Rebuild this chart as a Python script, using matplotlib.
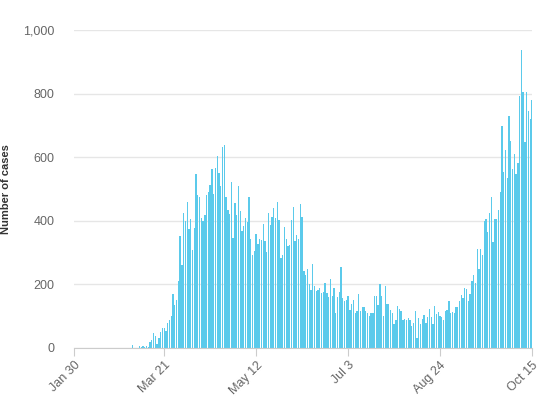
import matplotlib
matplotlib.use('Agg')
import matplotlib.pyplot as plt
import numpy as np
import pandas as pd

plt.rcParams.update({'font.family': ['Liberation Sans', 'DejaVu Sans'], 'font.size': 8.5})

BAR = '#5BCAEB'; GRID = '#E6E6E6'; AXIS = '#CCCCCC'; TXT = '#666666'

# daily new cases, Jan 30 .. Oct 15
early = [1] + [0] * 24 + [1, 0, 1, 0, 0, 0, 0]          # Jan 30 .. Mar 1
march = [0, 10, 0, 1, 0, 5, 2, 7, 3, 7, 4, 20, 24, 47, 37, 13, 31, 49, 64, 64,
         52, 80, 88, 101, 170, 135, 150, 210, 352]
spring = [260, 425, 399, 459, 373, 406, 307, 378, 548, 481, 476, 409, 399, 419,
          481, 492, 512, 562, 483, 566, 603, 550, 508, 631, 637, 474, 434, 422,
          523, 347, 456, 418, 509,
          431, 369, 384, 409, 397, 475, 344, 293, 306, 359, 328, 344, 340, 390,
          338, 303, 425, 388, 411, 440, 409, 458, 403, 284, 291, 381, 343, 322,
          325, 403, 444, 336, 354, 343]
summer = [453, 412, 241, 228, 250, 202, 181, 265, 196, 178, 183, 189, 172, 176,
          205, 174, 160, 216, 163, 188, 109, 159, 176, 255, 156, 147, 151, 164,
          119, 138, 152, 109, 117, 169,
          115, 128, 128, 115, 109, 100, 109, 109, 165, 163, 135, 202, 165, 102,
          194, 138, 137, 118, 109, 75, 88, 133, 122, 115, 88, 91, 88, 94, 88,
          69, 78, 115, 31, 94]
autumn = [76, 91, 105, 80, 97, 124, 99, 74, 131, 106, 114, 102, 98, 88, 117,
          121, 147, 110, 114, 110, 130, 130, 147, 168, 156, 189, 184, 147, 169,
          212, 231, 204, 311, 250,
          312, 291, 400, 405, 364, 423, 476, 333, 406, 406, 433, 490, 697, 552,
          623, 535, 730, 650, 564, 611, 547, 581, 794, 936, 806, 647, 805, 744,
          719, 780]
cases = early + march + spring + summer + autumn
dates = pd.date_range('2020-01-30', periods=len(cases), freq='D')

tick_dates = ['2020-01-30', '2020-03-21', '2020-05-12', '2020-07-03', '2020-08-24', '2020-10-15']
tick_labels = ['Jan 30', 'Mar 21', 'May 12', 'Jul 3', 'Aug 24', 'Oct 15']
y_ticks = [0, 200, 400, 600, 800, 1000]
y_labels = ['0', '200', '400', '600', '800', '1,000']

fig = plt.figure(figsize=(5.44, 4.0), dpi=100)
ax = fig.add_axes([74/544, 1 - 348/400, 458/544, 318/400])

x = np.arange(len(cases))
ax.bar(x, cases, width=0.75, color=BAR, linewidth=0, zorder=2)

ax.set_xlim(0, len(cases) - 1)
ax.set_ylim(0, 1000)
tick_pos = [(pd.Timestamp(t) - dates[0]).days for t in tick_dates]
ax.set_xticks(tick_pos)
ax.set_xticklabels(tick_labels, rotation=45, ha='right', va='top',
                   rotation_mode='anchor', color=TXT, fontsize=9)
ax.set_yticks(y_ticks)
ax.set_yticklabels(y_labels, color=TXT, fontsize=9)

ax.yaxis.grid(True, color=GRID, linewidth=1, zorder=0)
ax.set_axisbelow(True)
for s in ['top', 'right', 'left']:
    ax.spines[s].set_visible(False)
ax.spines['bottom'].set_color(AXIS)
ax.spines['bottom'].set_zorder(3)
ax.tick_params(axis='y', length=0, pad=14)
ax.tick_params(axis='x', length=6, color=AXIS, pad=2)

ax.set_ylabel('Number of cases', fontsize=8, fontweight='bold', color='#333333')
ax.yaxis.set_label_coords(-0.138, 0.5)

plt.savefig('out.png', dpi=100, facecolor='white')
